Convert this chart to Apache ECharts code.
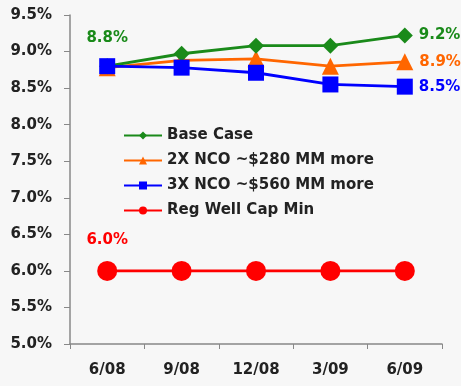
<!DOCTYPE html>
<html><head><meta charset="utf-8">
<script src="https://cdn.jsdelivr.net/npm/echarts@6/dist/echarts.min.js"></script>
<style>html,body{margin:0;padding:0;background:#f7f7f7;}#c{width:461px;height:386px;}</style>
</head><body><div id="c"></div>
<script>
const categories = ['6/08', '9/08', '12/08', '3/09', '6/09'];
const baseCase = [8.8, 8.97, 9.08, 9.08, 9.22];
const nco2x = [8.78, 8.88, 8.9, 8.8, 8.86];
const nco3x = [8.8, 8.78, 8.71, 8.55, 8.52];
const regMin = [6.0, 6.0, 6.0, 6.0, 6.0];
const seriesNames = ['Base Case', '2X NCO ~$280 MM more', '3X NCO ~$560 MM more', 'Reg Well Cap Min'];
const colors = ['#1a8a1a', '#ff6600', '#0000ff', '#ff0000'];
const font = '"DejaVu Sans", Verdana, sans-serif';

function withLabels(vals, color, firstLabel, lastLabel) {
  return vals.map((v, i) => {
    const d = { value: v };
    if (i === 0 && firstLabel) d.label = { show: true, position: 'top', distance: 13, formatter: v.toFixed(1) + '%', color: color, fontWeight: 'bold', fontSize: 15, fontFamily: font };
    if (i === vals.length - 1 && lastLabel) d.label = { show: true, position: 'right', distance: 6, formatter: v.toFixed(1) + '%', color: color, fontWeight: 'bold', fontSize: 15, fontFamily: font };
    return d;
  });
}

const chart = echarts.init(document.getElementById('c'));
chart.setOption({
  backgroundColor: '#f7f7f7',
  animation: false,
  grid: { left: 70, right: 19, top: 15, bottom: 42 },
  legend: {
    orient: 'vertical', left: 118, top: 123, itemGap: 10, itemWidth: 38, itemHeight: 10,
    textStyle: { fontFamily: font, fontWeight: 'bold', fontSize: 15, color: '#222' },
    data: seriesNames
  },
  xAxis: {
    type: 'category', data: categories, boundaryGap: true,
    axisLine: { lineStyle: { color: '#888', width: 1.5 } },
    axisTick: { show: true, length: 5, lineStyle: { color: '#888' } },
    axisLabel: { margin: 19, fontFamily: font, fontWeight: 'bold', fontSize: 15, color: '#222' }
  },
  yAxis: {
    type: 'value', min: 5, max: 9.5, interval: 0.5,
    splitLine: { show: false },
    axisLine: { show: true, lineStyle: { color: '#888', width: 1.5 } },
    axisTick: { show: true, length: 6, lineStyle: { color: '#888' } },
    axisLabel: { margin: 18, fontFamily: font, fontWeight: 'bold', fontSize: 15, color: '#222', formatter: v => v.toFixed(1) + '%' }
  },
  series: [
    { name: seriesNames[0], type: 'line', data: withLabels(baseCase, colors[0], true, true), color: colors[0], symbol: 'diamond', symbolSize: 16, lineStyle: { width: 2.8 }, z: 4 },
    { name: seriesNames[1], type: 'line', data: withLabels(nco2x, colors[1], false, true), color: colors[1], symbol: 'triangle', symbolSize: 17, lineStyle: { width: 2.8 }, z: 3 },
    { name: seriesNames[2], type: 'line', data: withLabels(nco3x, colors[2], false, true), color: colors[2], symbol: 'rect', symbolSize: 16, lineStyle: { width: 2.8 }, z: 5 },
    { name: seriesNames[3], type: 'line', data: withLabels(regMin, colors[3], true, false), color: colors[3], symbol: 'circle', symbolSize: 20, lineStyle: { width: 2.8 }, z: 2 }
  ]
});
</script></body></html>
